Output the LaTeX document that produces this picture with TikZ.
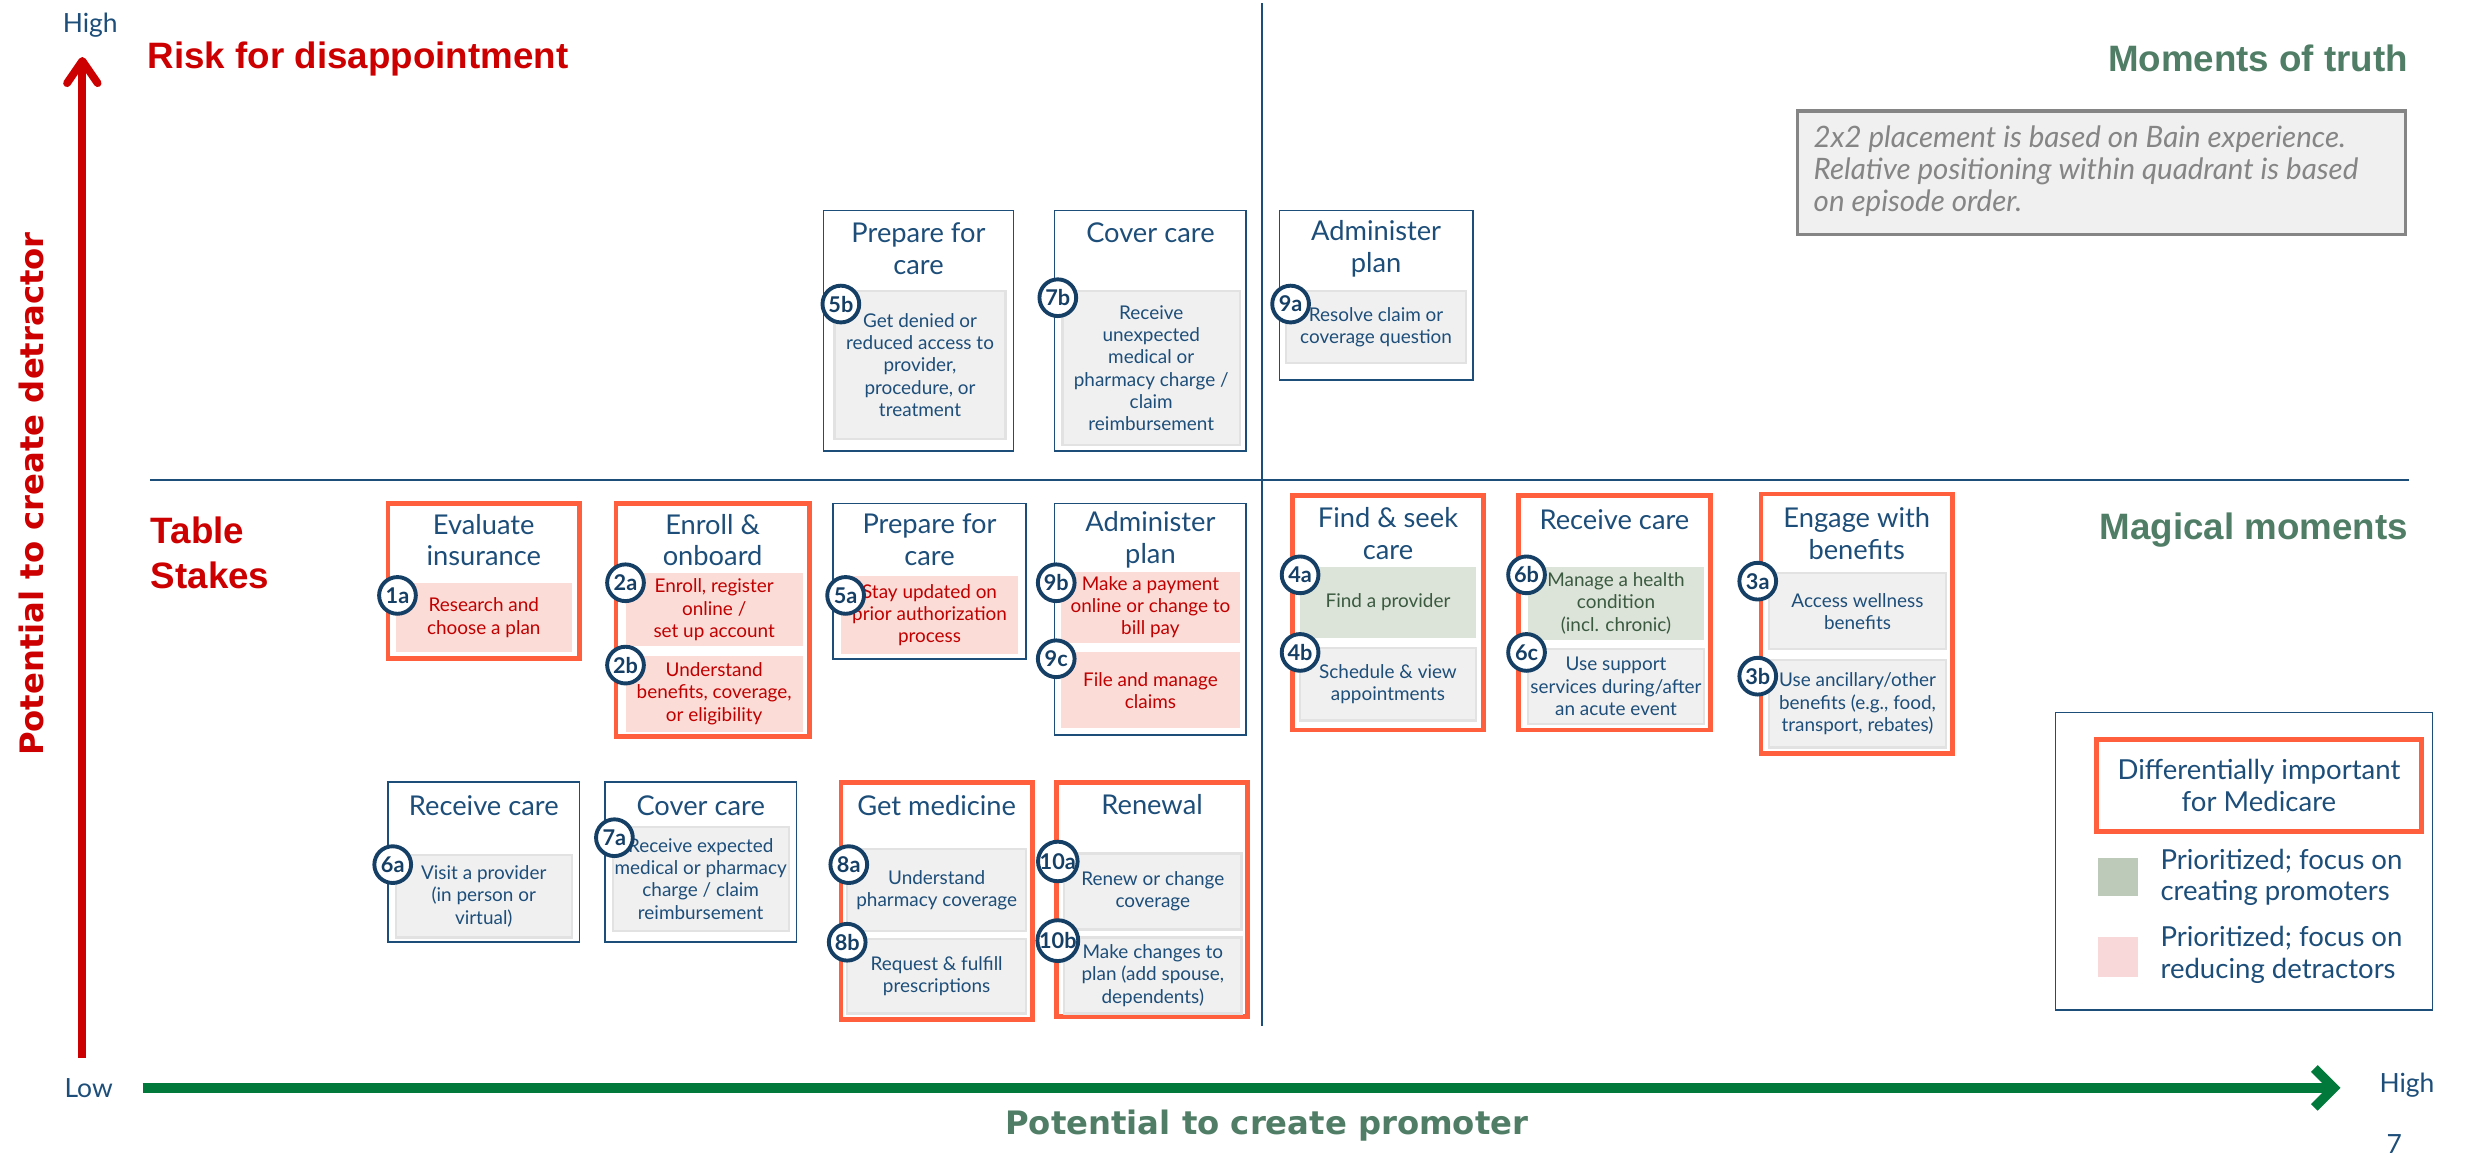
\documentclass[tikz,border=0pt]{standalone}
\usepackage{fontspec}
\setmainfont{Lato}
\newfontfamily\headfont{Liberation Sans}
\newfontfamily\axisfont{DejaVu Sans}
\usetikzlibrary{arrows.meta,fit}

\definecolor{navy}{HTML}{1D4E79}
\definecolor{badgeblue}{HTML}{163F66}
\definecolor{flame}{HTML}{FF5F3C}
\definecolor{alarm}{HTML}{CC0000}
\definecolor{deepred}{HTML}{C00000}
\definecolor{sage}{HTML}{4F7D65}
\definecolor{sagetext}{HTML}{3A5A40}
\definecolor{pinkfill}{HTML}{FCDCD7}
\definecolor{sagefill}{HTML}{DCE3D8}
\definecolor{sageswatch}{HTML}{BDCABA}
\definecolor{pinkswatch}{HTML}{F8D8D9}
\definecolor{greyfill}{HTML}{F0F0F0}
\definecolor{greyedge}{HTML}{E2E2E2}
\definecolor{notegrey}{HTML}{858585}
\definecolor{axisgreen}{HTML}{00793A}

\tikzset{
  card/.style={draw=navy, line width=0.6pt, inner sep=0pt},
  keycard/.style={draw=flame, line width=1.7pt, inner sep=0pt},
  cardtitle/.style={text=navy, font=\fontsize{9.8}{11.4}\selectfont, align=center, inner sep=0pt},
  greybox/.style={fill=greyfill, draw=greyedge, line width=0.8pt, inner sep=0pt},
  pinkbox/.style={fill=pinkfill, inner sep=0pt},
  sagebox/.style={fill=sagefill, inner sep=0pt},
  greylabel/.style={text=navy, font=\fontsize{6.8}{8}\selectfont, align=center, inner sep=0pt},
  pinklabel/.style={greylabel, text=deepred},
  sagelabel/.style={greylabel, text=sagetext},
  badge/.style={circle, draw=badgeblue, line width=1.4pt, fill=white, minimum size=13.2pt,
    inner sep=0pt, text=badgeblue, font=\fontsize{7.8}{8}\selectfont\bfseries},
  heading/.style={font=\headfont\bfseries\fontsize{13.2}{16}\selectfont, inner sep=0pt},
  axislabel/.style={font=\axisfont\bfseries\fontsize{11.6}{13}\selectfont, inner sep=0pt},
  tick/.style={text=navy, font=\fontsize{9.5}{11}\selectfont, inner sep=0pt},
  legendtext/.style={text=navy, font=\fontsize{9.9}{11.4}\selectfont, align=left, inner sep=0pt},
}

\begin{document}
\begin{tikzpicture}[x=0.2mm,y=-0.2mm]
  \useasboundingbox (0,0) rectangle (1568,728);

  % axes
  \coordinate (yfoot) at (52,668);
  \coordinate (ytip) at (52,36);
  \coordinate (xfoot) at (90,687);
  \coordinate (xtip) at (1478,687);
  \draw[alarm, line width=2.8pt, -{Straight Barb[length=8pt,width=11pt,round]}] (yfoot) -- (ytip);
  \draw[axisgreen, line width=3.4pt, -{Straight Barb[length=7pt,width=14pt]}] (xfoot) -- (xtip);
  \node[tick] (yhigh) at (57,16) {High};
  \node[tick] (xlow) at (56,687) {Low};
  \node[tick] (xhigh) at (1520,685) {High};
  \node[axislabel, text=alarm, rotate=90] (ylabel) at (20,312) {Potential to create detractor};
  \node[axislabel, text=sage] (xlabel) at (800,711) {Potential to create promoter};
  \node[tick, anchor=north] (pageno) at (1512,716) {7};

  % quadrant split
  \draw[navy, line width=0.6pt] (797,2) -- (797,648);
  \draw[navy, line width=0.6pt] (95,303) -- (1521,303);

  % quadrant names
  \node[heading, text=alarm, anchor=west] (risk) at (93,37) {Risk for disappointment};
  \node[heading, text=sage, anchor=east] (truth) at (1521,37) {Moments of truth};
  \node[heading, text=alarm, anchor=west, align=left] (stakes) at (95,349) {Table\\Stakes};
  \node[heading, text=sage, anchor=east] (magic) at (1521,335) {Magical moments};

  % note
  \node[draw=notegrey, line width=1.3pt, fill=greyfill, inner sep=0pt, fit={(1135,70) (1519,148)}] (note) {};
  \node[anchor=west, align=left, text=notegrey, font=\itshape\fontsize{10.6}{11.4}\selectfont, inner sep=0pt]
    (notetext) at (1145,108) {2x2 placement is based on Bain experience.\\Relative positioning within quadrant is based\\on episode order.};

  % cards
  \node[card, fit={(520,133) (640,285)}] (c5b) {};
  \node[card, fit={(666,133) (787,285)}] (c7b) {};
  \node[card, fit={(808,133) (930,240)}] (c9a) {};
  \node[keycard, fit={(245,318) (366,416)}] (c1) {};
  \node[keycard, fit={(389,318) (511,465)}] (c2) {};
  \node[card, fit={(526,318) (648,416)}] (c5a) {};
  \node[card, fit={(666,318) (787,464)}] (c9) {};
  \node[card, fit={(245,494) (366,595)}] (c6a) {};
  \node[card, fit={(382,494) (503,595)}] (c7a) {};
  \node[keycard, fit={(531,494) (652,644)}] (c8) {};
  \node[keycard, fit={(667,494) (788,642)}] (c10) {};
  \node[keycard, fit={(816,313) (937,461)}] (c4) {};
  \node[keycard, fit={(959,313) (1080,461)}] (c6) {};
  \node[keycard, fit={(1112,312) (1233,476)}] (c3) {};

  % card titles
  \node[cardtitle] (t5b) at (580,157) {Prepare for\\care};
  \node[cardtitle] (t7b) at (726.5,147) {Cover care};
  \node[cardtitle] (t9a) at (869,157) {Administer\\plan};
  \node[cardtitle] (t1) at (305.5,341) {Evaluate\\insurance};
  \node[cardtitle] (t2) at (450,341) {Enroll \&\\onboard};
  \node[cardtitle] (t5a) at (587,341) {Prepare for\\care};
  \node[cardtitle] (t9) at (726.5,341) {Administer\\plan};
  \node[cardtitle] (t6a) at (305.5,509) {Receive care};
  \node[cardtitle] (t7a) at (442.5,509) {Cover care};
  \node[cardtitle] (t8) at (591.5,509) {Get medicine};
  \node[cardtitle] (t10) at (727.5,508) {Renewal};
  \node[cardtitle] (t4) at (876.5,337) {Find \& seek\\care};
  \node[cardtitle] (t6) at (1019.5,328) {Receive care};
  \node[cardtitle] (t3) at (1172.5,337) {Engage with\\benefits};

  % episode boxes
  \node[greybox, fit={(527,184) (635,277)}] (s5b) {};
  \node[greybox, fit={(671,184) (783,281)}] (s7b) {};
  \node[greybox, fit={(812,184) (926,229)}] (s9a) {};
  \node[pinkbox, fit={(250,368) (361,412)}] (s1a) {};
  \node[pinkbox, fit={(395,362) (507,408)}] (s2a) {};
  \node[pinkbox, fit={(395,414) (507,462)}] (s2b) {};
  \node[pinkbox, fit={(531,364) (643,413)}] (s5a) {};
  \node[pinkbox, fit={(670,361) (783,406)}] (s9b) {};
  \node[pinkbox, fit={(670,412) (783,460)}] (s9c) {};
  \node[greybox, fit={(250,540) (361,592)}] (s6a) {};
  \node[greybox, fit={(387,522) (498,588)}] (s7a) {};
  \node[greybox, fit={(535,536) (648,588)}] (s8a) {};
  \node[greybox, fit={(535,593) (648,640)}] (s8b) {};
  \node[greybox, fit={(672,539) (784,587)}] (s10a) {};
  \node[greybox, fit={(672,592) (784,640)}] (s10b) {};
  \node[sagebox, fit={(821,358) (932,403)}] (s4a) {};
  \node[greybox, fit={(821,409) (932,455)}] (s4b) {};
  \node[sagebox, fit={(965,358) (1076,404)}] (s6b) {};
  \node[greybox, fit={(965,410) (1076,457)}] (s6c) {};
  \node[greybox, fit={(1117,362) (1229,410)}] (s3a) {};
  \node[greybox, fit={(1117,417) (1229,472)}] (s3b) {};

  % episode texts
  \node[greylabel] (e5b) at (s5b) {Get denied or\\reduced access to\\provider,\\procedure, or\\treatment};
  \node[greylabel] (e7b) at (s7b) {Receive\\unexpected\\medical or\\pharmacy charge /\\claim\\reimbursement};
  \node[greylabel] (e9a) at (s9a) {Resolve claim or\\coverage question};
  \node[pinklabel] (e1a) at (s1a) {Research and\\choose a plan};
  \node[pinklabel] (e2a) at (s2a) {Enroll, register\\online /\\set up account};
  \node[pinklabel] (e2b) at (s2b) {Understand\\benefits, coverage,\\or eligibility};
  \node[pinklabel] (e5a) at (s5a) {Stay updated on\\prior authorization\\process};
  \node[pinklabel] (e9b) at (s9b) {Make a payment\\online or change to\\bill pay};
  \node[pinklabel] (e9c) at (s9c) {File and manage\\claims};
  \node[greylabel] (e6a) at (s6a) {Visit a provider\\(in person or\\virtual)};
  \node[greylabel] (e7a) at (s7a) {Receive expected\\medical or pharmacy\\charge / claim\\reimbursement};
  \node[greylabel] (e8a) at (s8a) {Understand\\pharmacy coverage};
  \node[greylabel] (e8b) at (s8b) {Request \& fulfill\\prescriptions};
  \node[greylabel] (e10a) at (s10a) {Renew or change\\coverage};
  \node[greylabel] (e10b) at (s10b) {Make changes to\\plan (add spouse,\\dependents)};
  \node[sagelabel] (e4a) at (s4a) {Find a provider};
  \node[greylabel] (e4b) at (s4b) {Schedule \& view\\appointments};
  \node[sagelabel] (e6b) at (s6b) {Manage a health\\condition\\(incl. chronic)};
  \node[greylabel] (e6c) at (s6c) {Use support\\services during/after\\an acute event};
  \node[greylabel] (e3a) at (s3a) {Access wellness\\benefits};
  \node[greylabel] (e3b) at (s3b) {Use ancillary/other\\benefits (e.g., food,\\transport, rebates)};

  % episode numbers
  \node[badge] (b5b) at (531,192) {5b};
  \node[badge] (b7b) at (668,188) {7b};
  \node[badge] (b9a) at (815,192) {9a};
  \node[badge] (b1a) at (251,376) {1a};
  \node[badge] (b2a) at (395,368) {2a};
  \node[badge] (b2b) at (395,420) {2b};
  \node[badge] (b5a) at (534,376) {5a};
  \node[badge] (b9b) at (667,368) {9b};
  \node[badge] (b9c) at (667,416) {9c};
  \node[badge] (b6a) at (248,546) {6a};
  \node[badge] (b7a) at (388,529) {7a};
  \node[badge] (b8a) at (536,546) {8a};
  \node[badge] (b8b) at (535,595) {8b};
  \node[badge] (b10a) at (668,544) {10a};
  \node[badge] (b10b) at (668,594) {10b};
  \node[badge] (b4a) at (821,363) {4a};
  \node[badge] (b4b) at (821,412) {4b};
  \node[badge] (b6b) at (964,363) {6b};
  \node[badge] (b6c) at (964,412) {6c};
  \node[badge] (b3a) at (1110,367) {3a};
  \node[badge] (b3b) at (1110,427) {3b};

  % legend
  \node[card, fit={(1298,450) (1536,638)}] (legend) {};
  \node[keycard, fit={(1324,467) (1529,525)}] (keylegend) {};
  \node[legendtext, align=center] (keytext) at (keylegend) {Differentially important\\for Medicare};
  \node[fill=sageswatch, inner sep=0pt, fit={(1325,542) (1350,566)}] (sagekeybox) {};
  \node[fill=pinkswatch, inner sep=0pt, fit={(1325,592) (1350,617)}] (pinkkeybox) {};
  \node[legendtext, anchor=west] (sagekey) at (1364,554) {Prioritized; focus on\\creating promoters};
  \node[legendtext, anchor=west] (pinkkey) at (1364,603) {Prioritized; focus on\\reducing detractors};
\end{tikzpicture}
\end{document}
